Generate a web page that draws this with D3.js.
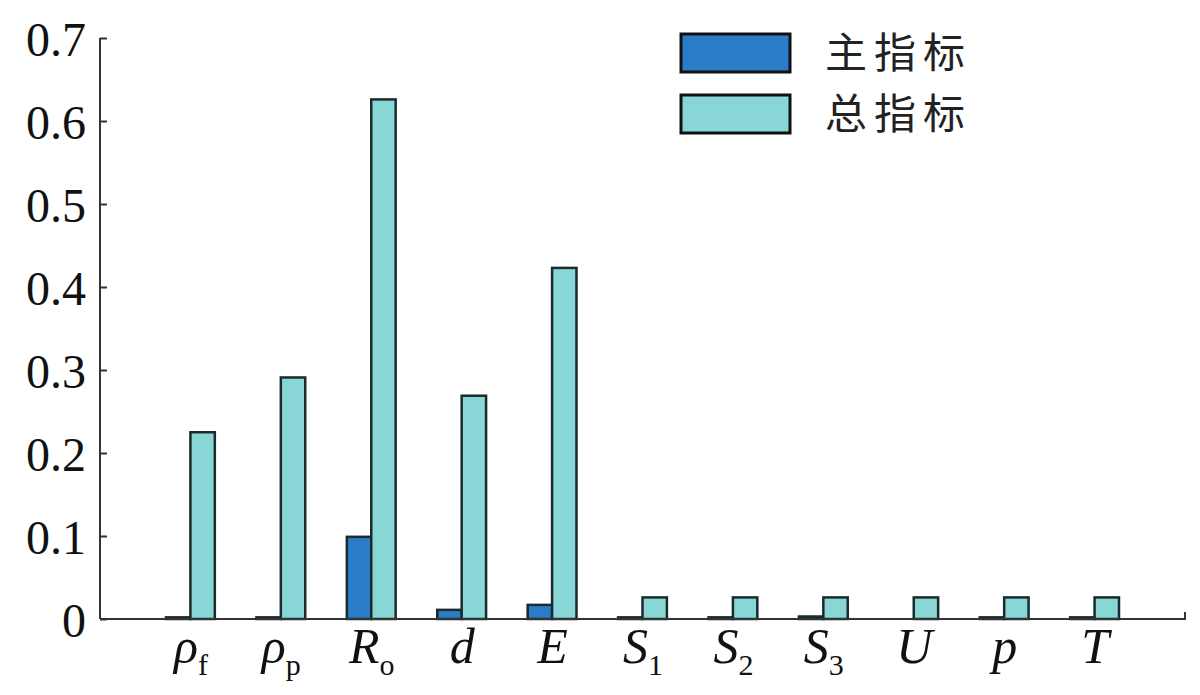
<!DOCTYPE html>
<html>
<head>
<meta charset="utf-8">
<script src="https://cdn.jsdelivr.net/npm/d3@7"></script>
<style>
  body { margin: 0; background: #fff; }
  svg { display: block; }
  .tick text { font-family: "Liberation Serif", "DejaVu Serif", serif; fill: #111; }
</style>
</head>
<body>
<div id="chart"></div>
<script>
// categories (base letter + subscript)
const labelBase = ['ρ', 'ρ', 'R', 'd', 'E', 'S', 'S', 'S', 'U', 'p', 'T'];
const labelSub = ['f', 'p', 'o', '', '', '1', '2', '3', '', '', ''];
// first order (main) and total sensitivity indices
const mainIdx = [0.002, 0.002, 0.099, 0.011, 0.017, 0.002, 0.002, 0.003, 0.000, 0.002, 0.002];
const totalIdx = [0.225, 0.291, 0.626, 0.269, 0.423, 0.026, 0.026, 0.026, 0.026, 0.026, 0.026];
const seriesNames = ['主指标', '总指标'];
const yTicks = [0, 0.1, 0.2, 0.3, 0.4, 0.5, 0.6, 0.7];

const W = 1200, H = 695;
const margin = { top: 38, right: 15, bottom: 76, left: 100 };
const colors = ['#2a7cc8', '#88d7d6'];
const edge = '#1b2a2b';

const svg = d3.select('#chart').append('svg')
  .attr('width', W).attr('height', H);

const x = d3.scaleLinear().domain([0, 12]).range([margin.left, W - margin.right]);
const y = d3.scaleLinear().domain([0, 0.7]).range([H - margin.bottom, margin.top]);
const barW = 0.27;

const idx = d3.range(labelBase.length);

// bars
svg.append('g').selectAll('rect.main')
  .data(idx).enter().append('rect')
  .attr('x', i => x(i + 1 - barW))
  .attr('width', x(barW) - x(0))
  .attr('y', i => y(mainIdx[i]))
  .attr('height', i => y(0) - y(mainIdx[i]))
  .attr('fill', colors[0]).attr('stroke', edge).attr('stroke-width', 2.5);

svg.append('g').selectAll('rect.total')
  .data(idx).enter().append('rect')
  .attr('x', i => x(i + 1))
  .attr('width', x(barW) - x(0))
  .attr('y', i => y(totalIdx[i]))
  .attr('height', i => y(0) - y(totalIdx[i]))
  .attr('fill', colors[1]).attr('stroke', edge).attr('stroke-width', 2.5);

// y axis
const yAxis = svg.append('g')
  .attr('transform', 'translate(' + margin.left + ',0)')
  .call(d3.axisLeft(y).tickValues(yTicks).tickSize(-7).tickPadding(14)
    .tickFormat(d => d === 0 ? '0' : d3.format('.1f')(d)));
yAxis.selectAll('text').attr('font-size', 48).attr('dy', '0.36em');
yAxis.selectAll('line, path').attr('stroke', '#333').attr('stroke-width', 2);
yAxis.select('path').attr('d', 'M0,' + y(0.7) + 'V' + y(0));

// x axis
const xAxis = svg.append('g')
  .attr('transform', 'translate(0,' + y(0) + ')')
  .call(d3.axisBottom(x).tickValues(d3.range(1, 12)).tickSize(0).tickPadding(0));
xAxis.select('path').attr('stroke', '#333').attr('stroke-width', 2)
  .attr('d', 'M' + x(0) + ',0H' + x(12) + 'V-7');

xAxis.selectAll('.tick text').each(function (d) {
  const t = d3.select(this);
  const i = d - 1;
  t.text(null).attr('y', 44).attr('dy', null).attr('font-size', 50);
  t.append('tspan').attr('font-style', 'italic').text(labelBase[i]);
  if (labelSub[i]) {
    t.append('tspan').attr('font-size', 30).attr('dy', 12).text(labelSub[i]);
  }
});

// legend
const legend = svg.append('g');
seriesNames.forEach((name, i) => {
  const ly = 34 + i * 61;
  legend.append('rect')
    .attr('x', 681).attr('y', ly).attr('width', 109).attr('height', 38)
    .attr('fill', colors[i]).attr('stroke', '#111').attr('stroke-width', 3);
  legend.append('text')
    .attr('x', 825).attr('y', ly + 19).attr('dy', '0.36em')
    .attr('font-family', '"Noto Sans CJK SC", sans-serif')
    .attr('font-size', 42).attr('letter-spacing', 7).attr('fill', '#222')
    .text(name);
});
</script>
</body>
</html>
